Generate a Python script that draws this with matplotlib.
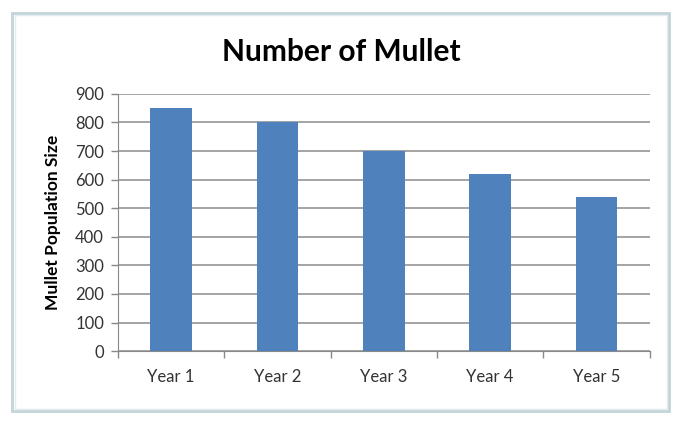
import matplotlib.pyplot as plt
from matplotlib.patches import Rectangle

years = ['Year 1', 'Year 2', 'Year 3', 'Year 4', 'Year 5']
mullet = [850, 800, 700, 620, 540]
yticks = [0, 100, 200, 300, 400, 500, 600, 700, 800, 900]

plt.rcParams['font.family'] = ['Lato', 'DejaVu Sans']

fig = plt.figure(figsize=(6.79, 4.23), dpi=100)
fig.patch.set_facecolor('white')

# light chart-frame like the spreadsheet selection box
fig.add_artist(Rectangle((0.018, 0.028), 0.968, 0.942, transform=fig.transFigure,
                         fill=False, edgecolor='#c3d4d9', linewidth=2))
fig.add_artist(Rectangle((0.022, 0.034), 0.960, 0.930, transform=fig.transFigure,
                         fill=False, edgecolor='#e2ebed', linewidth=1))

ax = fig.add_axes([0.1738, 0.170, 0.783, 0.608])
x = list(range(len(years)))
ax.bar(x, mullet, width=0.39, color='#4f81bd', zorder=3)

ax.set_xlim(-0.5, 4.5)
ax.set_ylim(0, 900)
ax.set_yticks(yticks)
ax.set_yticklabels([str(v) for v in yticks], fontsize=12, color='#333333')
ax.set_xticks(x)
ax.set_xticklabels(years, fontsize=12, color='#333333')
ax.tick_params(axis='x', length=0, pad=13)
ax.set_xticks([i - 0.5 for i in range(len(years) + 1)], minor=True)
ax.tick_params(axis='x', which='minor', length=5, color='#888888', width=1)
ax.tick_params(axis='y', length=5, color='#888888', width=1, pad=5)

ax.yaxis.grid(True, color='#8c8c8c', linewidth=1.1, zorder=0)
for s in ['top', 'right']:
    ax.spines[s].set_visible(False)
ax.spines['left'].set_color('#888888')
ax.spines['bottom'].set_color('#888888')

ax.set_ylabel('Mullet Population Size', fontsize=12.5, fontweight='bold', labelpad=10)
fig.text(0.503, 0.876, 'Number of Mullet', ha='center', va='center',
         fontsize=21.5, fontweight='bold')

fig.savefig('out.png', dpi=100)
